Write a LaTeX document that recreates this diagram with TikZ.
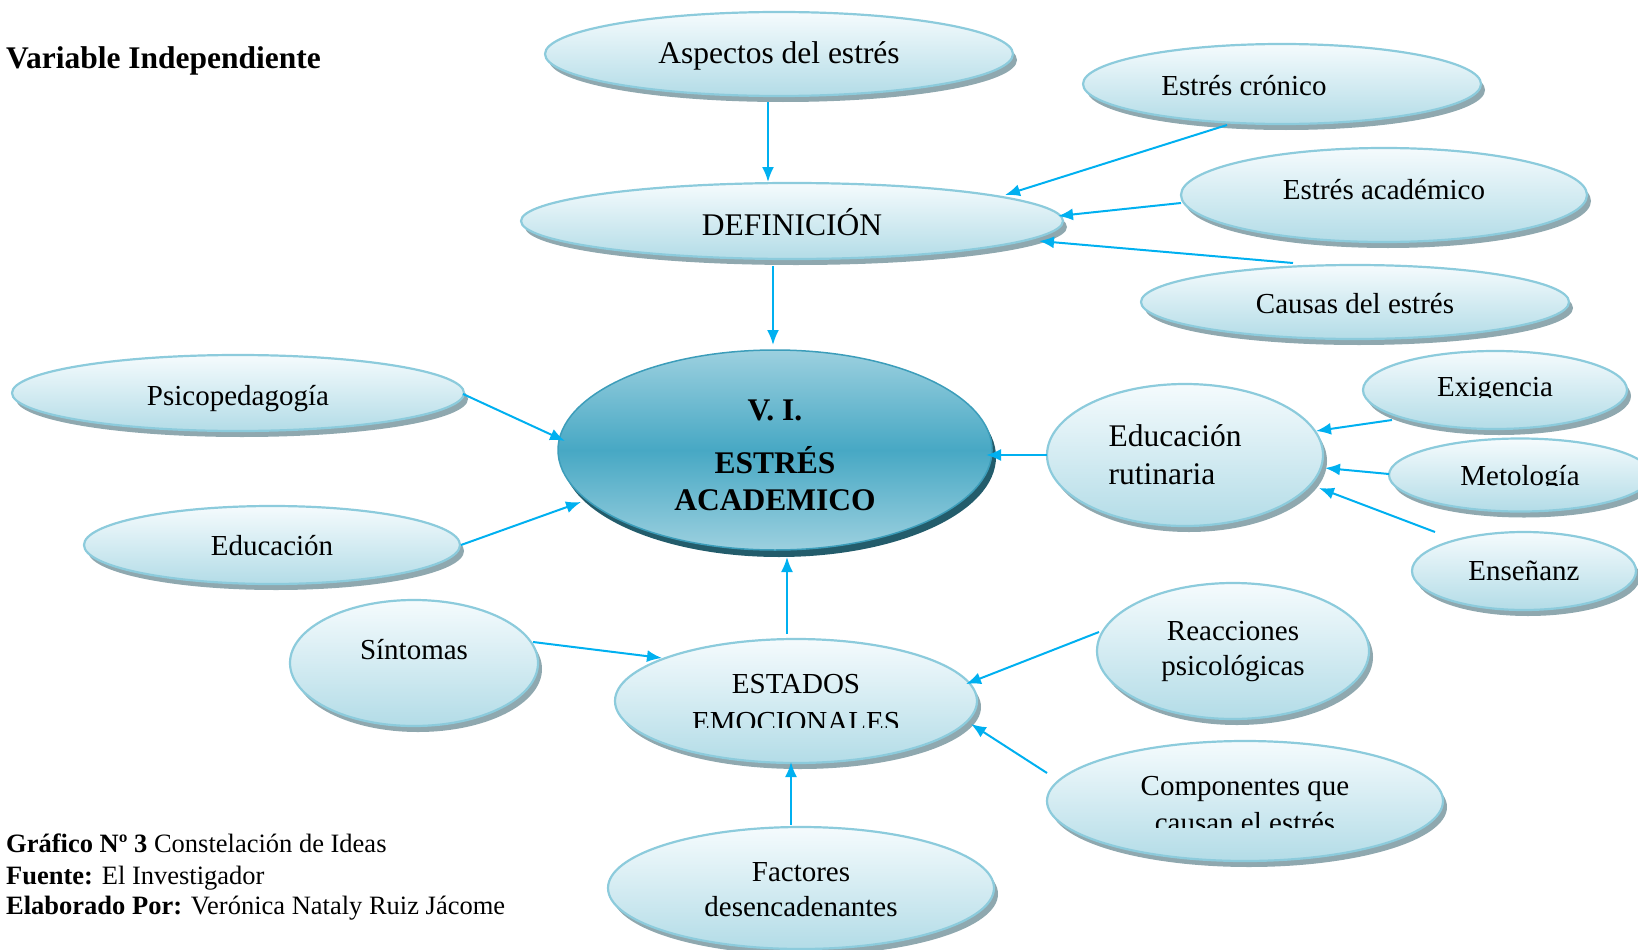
\documentclass[tikz,border=0pt]{standalone}
\usepackage{fontspec}
\setmainfont{Liberation Serif}
\usetikzlibrary{shapes.geometric,shadows,arrows.meta,calc}
\definecolor{arrc}{HTML}{00B0F0}
\definecolor{bord}{HTML}{8CCBDC}
\definecolor{ftop}{HTML}{F5FBFD}
\definecolor{fbot}{HTML}{B3DCE7}
\definecolor{shd}{HTML}{8FA8AF}
\definecolor{ctop}{HTML}{9CD0DF}
\definecolor{cmid}{HTML}{47A8C4}
\definecolor{cbord}{HTML}{3C9DBA}
\definecolor{cshd}{HTML}{235C6B}
\begin{document}
\begin{tikzpicture}[x=1pt,y=1pt,
  txt/.style={font=\fontsize{29}{37}\selectfont, align=center, inner sep=0pt},
  bigtxt/.style={font=\fontsize{31.5}{38}\selectfont, align=center, inner sep=0pt},
  blob/.style={ellipse, draw=bord, line width=2.2pt, top color=ftop, bottom color=fbot,
    inner sep=0pt,
    drop shadow={shadow xshift=4pt, shadow yshift=-6pt, fill=shd, opacity=1}},
  sz/.style 2 args={minimum width=#1pt, minimum height=#2pt},
  cblob/.style={ellipse, draw=cbord, line width=1.5pt, top color=ctop, bottom color=ctop, middle color=cmid,
    inner sep=0pt,
    drop shadow={shadow xshift=4pt, shadow yshift=-7pt, fill=cshd, opacity=1}},
  arr/.style={draw=arrc, line width=2pt, -{Latex[length=15pt,width=12pt]}},
  foot/.style={font=\fontsize{26.5}{31}\selectfont, anchor=west, inner sep=0pt}
]
\useasboundingbox (0,0) rectangle (1638,-950);
\clip (0,0) rectangle (1638,-950);

% title
\node[anchor=west, inner sep=0pt, font=\fontsize{31.5}{36}\selectfont\bfseries] (title) at (6,-61) {Variable Independiente};

% ellipses
\node[blob, sz={468}{84}] (asp) at (779,-54) {};
\node[blob, sz={542}{76}] (def) at (792,-221) {};
\node[blob, sz={398}{80}] (cron) at (1282,-84) {};
\node[blob, sz={406}{94}] (acad) at (1384,-195) {};
\node[blob, sz={428}{74}] (caus) at (1355,-302) {};
\node[cblob, sz={434}{200}] (vi) at (775,-450) {};
\node[blob, sz={452}{76}] (psi) at (238,-393) {};
\node[blob, sz={376}{78}] (edu) at (272,-545) {};
\node[blob, sz={276}{142}] (edr) at (1185,-455) {};
\node[blob, sz={264}{78}] (exi) at (1495,-390) {};
\node[blob, sz={262}{73}] (met) at (1520,-475) {};
\node[blob, sz={224}{78}] (ens) at (1524,-571) {};
\node[blob, sz={248}{126}] (sin) at (414,-663) {};
\node[blob, sz={362}{124}] (est) at (796,-701) {};
\node[blob, sz={272}{136}] (rea) at (1233,-651) {};
\node[blob, sz={396}{120}] (com) at (1245,-801) {};
\node[blob, sz={386}{122}] (fac) at (801,-888) {};

% texts
\node[bigtxt] (t-asp) at ($(asp)+(0,-2)$) {Aspectos del estrés};
\node[bigtxt] (t-def) at ($(def)+(0,-1)$) {DEFINICIÓN};
\node[txt] (t-cron) at ($(cron)+(-38,-2)$) {Estrés crónico};
\node[txt] (t-acad) at ($(acad)+(0,5)$) {Estrés académico};
\node[txt] (t-caus) at ($(caus)+(0,-2)$) {Causas del estrés};
\node[txt, font=\fontsize{31.5}{37}\selectfont\bfseries] (t-vi) at ($(vi)+(0,-5)$) {V. I.\\[16pt]ESTRÉS\\ACADEMICO};
\node[txt] (t-psi) at ($(psi)+(0,-6)$) {Psicopedagogía};
\node[txt] (t-edu) at ($(edu)+(0,-1)$) {Educación};
\node[bigtxt, align=left] (t-edr) at ($(edr)+(-10,0)$) {Educación\\rutinaria};
\begin{scope}
  \clip (1300,-300) rectangle (1638,-397);
  \node[txt] (t-exi) at (exi) {Exigencia};
\end{scope}
\begin{scope}
  \clip (1300,-420) rectangle (1638,-485);
  \node[txt] (t-met) at ($(met)+(0,-3.5)$) {Metología};
\end{scope}
\node[txt] (t-ens) at (ens) {Enseñanz};
\node[txt] (t-sin) at ($(sin)+(0,13)$) {Síntomas};
\begin{scope}
  \clip (600,-620) rectangle (1000,-727);
  \node[txt, font=\fontsize{29}{38}\selectfont] (t-est) at ($(est)+(0,-2)$) {ESTADOS\\EMOCIONALES};
\end{scope}
\node[txt, font=\fontsize{29}{35}\selectfont] (t-rea) at ($(rea)+(0,-1)$) {Reacciones\\psicológicas};
\begin{scope}
  \clip (1050,-740) rectangle (1440,-827);
  \node[txt] (t-com) at ($(com)+(0,-3.5)$) {Componentes que\\causan el estrés};
\end{scope}
\node[txt, font=\fontsize{29}{35}\selectfont] (t-fac) at ($(fac)+(0,-2)$) {Factores\\desencadenantes};

% connectors
\draw[arr] ($(asp)+(-11,-48)$) -- ($(def)+(-24,39)$);
\draw[arr] ($(def)+(-19,-45)$) -- ($(vi)+(-2,105)$);
\draw[arr] ($(cron)+(-55,-41)$) -- ($(def)+(213,26)$);
\draw[arr] ($(acad)+(-203,-8)$) -- ($(def)+(266,5)$);
\draw[arr] ($(caus)+(-62,39)$) -- ($(def)+(247,-20)$);
\draw[arr] ($(psi)+(225,-1)$) -- ($(vi)+(-210,9)$);
\draw[arr] ($(edu)+(189,0)$) -- ($(vi)+(-194,-52)$);
\draw[arr] ($(edr)+(-138,0)$) -- ($(vi)+(211,-5)$);
\draw[arr] ($(exi)+(-103,-30)$) -- ($(edr)+(131,24)$);
\draw[arr] ($(met)+(-131,1)$) -- ($(edr)+(140,-13)$);
\draw[arr] ($(ens)+(-89,39)$) -- ($(edr)+(134,-33)$);
\draw[arr] ($(est)+(-9,67)$) -- ($(vi)+(12,-107)$);
\draw[arr] ($(sin)+(119,21)$) -- ($(est)+(-134,43)$);
\draw[arr] ($(rea)+(-134,19)$) -- ($(est)+(170,17)$);
\draw[arr] ($(com)+(-198,28)$) -- ($(est)+(175,-23)$);
\draw[arr] ($(fac)+(-10,63)$) -- ($(est)+(-5,-61)$);

% footer
\node[foot] (f1) at (6,-843) {\textbf{Gráfico Nº 3} Constelación de Ideas};
\node[foot] (f2) at (6,-878) {\textbf{Fuente:} El Investigador};
\node[foot] (f3) at (6,-908) {\textbf{Elaborado Por:} Verónica Nataly Ruiz Jácome};
\end{tikzpicture}
\end{document}
